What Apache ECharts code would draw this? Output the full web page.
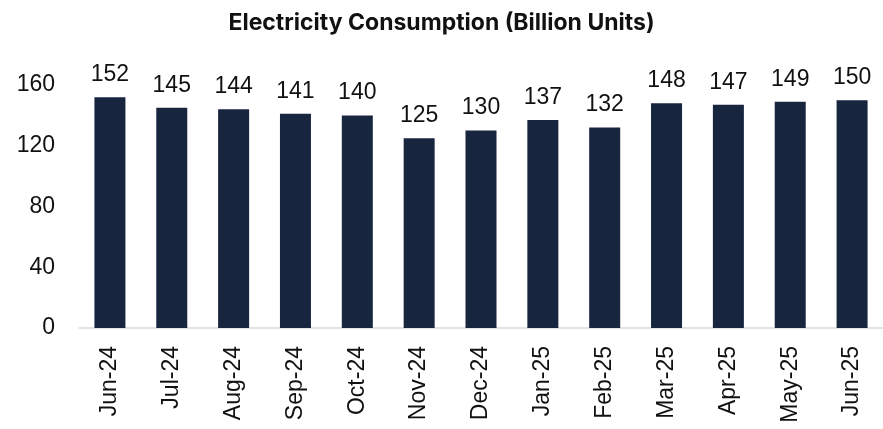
<!DOCTYPE html>
<html><head><meta charset="utf-8">
<script src="https://cdn.jsdelivr.net/npm/echarts@6/dist/echarts.min.js"></script>
<style>html,body{margin:0;padding:0;background:#fff}#c{width:883px;height:429px}</style>
</head><body><div id="c"></div>
<script>
const categories = ['Jun-24','Jul-24','Aug-24','Sep-24','Oct-24','Nov-24','Dec-24','Jan-25','Feb-25','Mar-25','Apr-25','May-25','Jun-25'];
const consumption = [152,145,144,141,140,125,130,137,132,148,147,149,150];
const yTicks = [0,40,80,120,160];
const chart = echarts.init(document.getElementById('c'));
chart.setOption({
  animation:false,
  title:{text:'Electricity Consumption (Billion Units)',left:'center',top:7,
    textStyle:{fontFamily:'Inter',fontWeight:'bold',fontSize:23,color:'#111'}},
  grid:{left:79,right:-8,top:85,bottom:101,containLabel:false},
  xAxis:{type:'category',data:categories,
    axisLine:{lineStyle:{color:'#d9d9d9',width:1.5}},axisTick:{show:false},
    axisLabel:{rotate:90,margin:18,fontFamily:'Liberation Sans',fontSize:23,color:'#111',interval:0}},
  yAxis:{type:'value',min:yTicks[0],max:yTicks[yTicks.length-1],interval:40,
    splitLine:{show:false},axisLine:{show:false},axisTick:{show:false},
    axisLabel:{margin:24,fontFamily:'Liberation Sans',fontSize:23,color:'#111'}},
  series:[{type:'bar',data:consumption,barWidth:31,
    itemStyle:{color:'#18253f'},
    label:{show:true,position:'top',distance:11,fontFamily:'Liberation Sans',fontSize:23,color:'#111'}}]
});
</script></body></html>
